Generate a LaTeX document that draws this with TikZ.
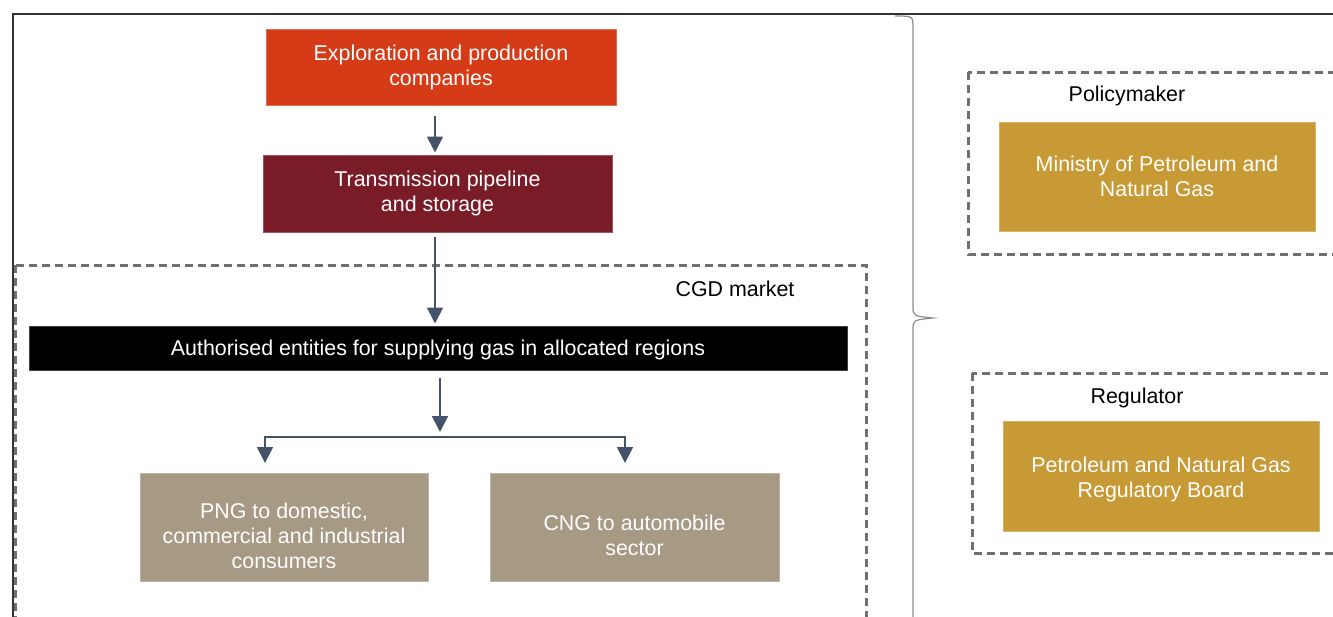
\documentclass[tikz,border=0pt]{standalone}
\usepackage{fontspec}
\setmainfont{Liberation Sans}
\usetikzlibrary{arrows.meta}
\definecolor{eporange}{HTML}{D63B17}
\definecolor{pipered}{HTML}{7A1B28}
\definecolor{taupe}{HTML}{A69A85}
\definecolor{ochre}{HTML}{C79A35}
\definecolor{slate}{HTML}{44536A}
\definecolor{dashgray}{HTML}{707070}
% extra room above the first line pushes the text down in its box
\newcommand{\droptext}[1]{\rule{0pt}{#1}}
\begin{document}
\begin{tikzpicture}[x=0.5pt,y=-0.5pt,
  box/.style={draw=#1!75!white, fill=#1, text=white, align=center, inner sep=0pt,
    line width=0.5pt, font=\fontsize{10.7}{12.5}\selectfont},
  flow/.style={draw=slate, line width=0.9pt, -{Triangle[width=8pt,length=8pt]}},
  frame/.style={draw=dashgray, line width=1.5pt, dash pattern=on 4pt off 2.5pt},
  tag/.style={font=\fontsize{10.7}{12.5}\selectfont, text=black}]
\useasboundingbox (0,0) rectangle (1333,616);
\clip (0,0) rectangle (1333,616);
% outer frame and brace
\draw[black!80, line width=1pt] (13,640) -- (13,14) -- (1350,14);
\draw[black!45, line width=0.6pt] (895,16) .. controls (913,16) .. (913,28) -- (913,306)
  .. controls (913,316) .. (933,318) .. controls (913,320) .. (913,330) -- (913,640);
% dashed groups
\draw[frame] (15,265) rectangle (866,660);
\draw[frame] (968,72) rectangle (1360,254);
\draw[frame] (972,373) rectangle (1360,553);
\node[tag] (cgdtag) at (735,289) {CGD market};
\node[tag] (policytag) at (1127,96) {Policymaker};
\node[tag] (regtag) at (1137,398) {Regulator};
% supply chain
\node[box=eporange, minimum width=175pt, minimum height=38pt] (explore) at (441,67) {Exploration and production\\companies};
\node[box=pipered, minimum width=174.5pt, minimum height=38.5pt] (pipeline) at (437.5,193.5) {Transmission pipeline\\and storage};
\node[box=black, minimum width=409pt, minimum height=22pt] (entities) at (438,348) {\droptext{10pt}Authorised entities for supplying gas in allocated regions};
\node[box=taupe, minimum width=144pt, minimum height=54pt] (png) at (284,527) {\droptext{17pt}PNG to domestic,\\commercial and industrial\\consumers};
\node[box=taupe, minimum width=144.5pt, minimum height=54pt] (cng) at (634.5,527) {\droptext{16pt}CNG to automobile\\sector};
% institutions
\node[box=ochre, minimum width=158pt, minimum height=54.5pt] (ministry) at (1157,176.5) {Ministry of Petroleum and\\Natural Gas};
\node[box=ochre, minimum width=158pt, minimum height=55pt] (board) at (1161,476) {\droptext{11pt}Petroleum and Natural Gas\\Regulatory Board};
% connectors
\coordinate (split) at (440,437);
\coordinate (lefttip) at (265,463);
\coordinate (righttip) at (625,463);
\draw[flow] ([xshift=-3pt,yshift=-5pt]explore.south) -- ([xshift=-1.25pt,yshift=1pt]pipeline.north);
\draw[flow] ([xshift=-1.25pt,yshift=-2pt]pipeline.south) -- ([xshift=-1.5pt,yshift=1pt]entities.north);
\draw[flow, shorten >=2.5pt] ([xshift=1pt,yshift=-3.5pt]entities.south) -- (split);
\foreach \tip in {lefttip,righttip} {
  \draw[flow] (split) -| (\tip);
}
\end{tikzpicture}
\end{document}
